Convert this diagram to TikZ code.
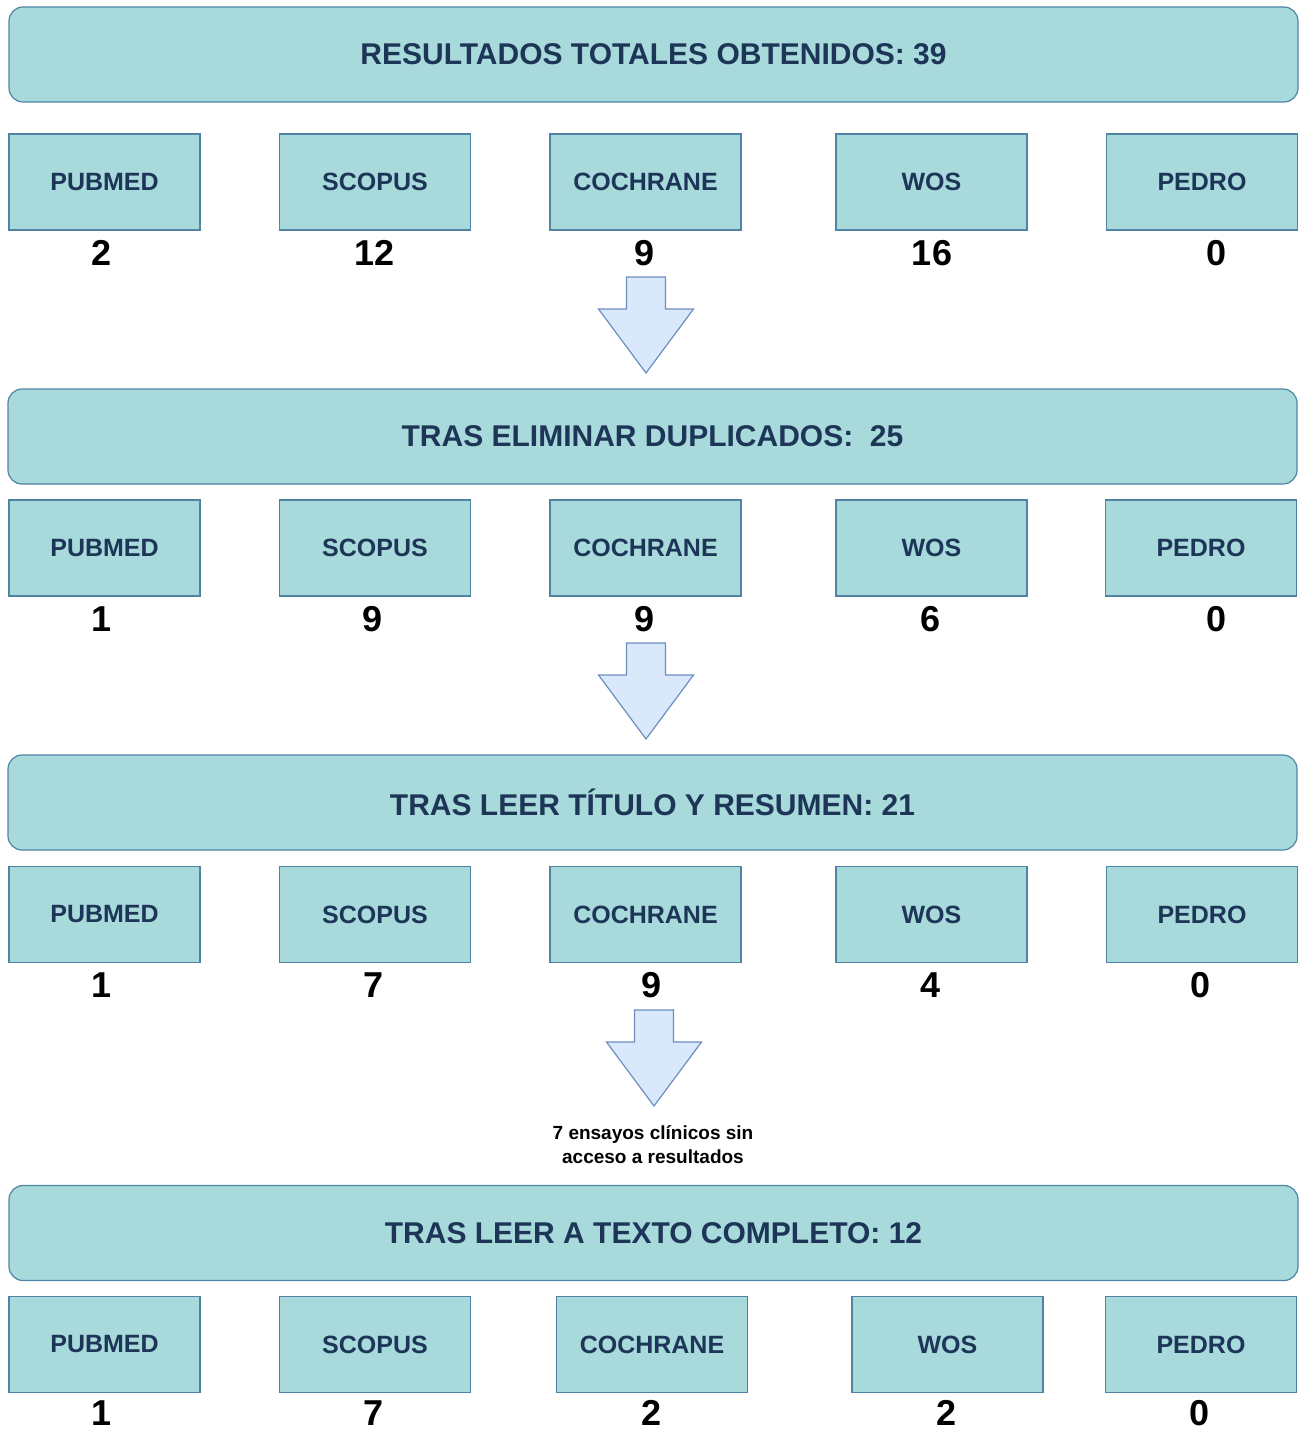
\documentclass[tikz,border=0pt]{standalone}
\usepackage{fontspec}
\setmainfont{Liberation Sans}
\usepackage{xcolor}
\usepackage{tikz}
\usetikzlibrary{positioning}

\definecolor{relleno}{HTML}{A8DADC}
\definecolor{borde}{HTML}{4F84A6}
\definecolor{letra}{HTML}{1D3557}
\definecolor{rellenoflecha}{HTML}{DAE8FC}
\definecolor{bordeflecha}{HTML}{6C8EBF}

% flecha de bloque hacia abajo, con la punta en #1
\newcommand{\flecha}[1]{%
  \draw[flecha] (#1) -- ++(47.5,-64) -- ++(-28,0) -- ++(0,-32) -- ++(-39,0)
    -- ++(0,32) -- ++(-28,0) -- cycle;}

\begin{document}
\begin{tikzpicture}[
    x=0.5pt, y=-0.5pt,
    cabecera/.style={draw=borde, fill=relleno, line width=0.6pt, rounded corners=7pt,
      minimum width=644.5pt, minimum height=47.5pt, inner sep=0pt,
      text=letra, font=\fontsize{15}{18}\selectfont\bfseries},
    base/.style={draw=borde, fill=relleno, line width=0.6pt,
      minimum width=95.5pt, minimum height=48pt, inner sep=0pt,
      text=letra, font=\fontsize{12.5}{15}\selectfont\bfseries},
    cifra/.style={inner sep=0pt, text=black, font=\fontsize{18}{21}\selectfont\bfseries},
    nota/.style={inner sep=0pt, align=center, text=black,
      font=\fontsize{9.5}{12}\selectfont\bfseries},
    flecha/.style={draw=bordeflecha, fill=rellenoflecha, line width=0.6pt, line join=miter}]
  \useasboundingbox (0,0) rectangle (1304,1432);

  % resultados totales
  \node[cabecera] (h1) at (653.5,54.5) {RESULTADOS TOTALES OBTENIDOS: 39};
  \node[base] (pub1) at (104.5,182) {PUBMED};
  \node[base] (sco1) at (375,182) {SCOPUS};
  \node[base] (coc1) at (645.5,182) {COCHRANE};
  \node[base] (wos1) at (931.5,182) {WOS};
  \node[base] (ped1) at (1202,182) {PEDRO};
  \node[cifra] (npub1) at (102,253) {2};
  \node[cifra] (nsco1) at (375,253) {12};
  \node[cifra] (ncoc1) at (645,253) {9};
  \node[cifra] (nwos1) at (932,253) {16};
  \node[cifra] (nped1) at (1217,253) {0};
  \coordinate (fl1) at (646,373);
  \flecha{fl1}

  % duplicados
  \node[cabecera] (h2) at (652.5,436.5) {TRAS ELIMINAR DUPLICADOS:\ \ 25};
  \node[base] (pub2) at (104.5,548) {PUBMED};
  \node[base] (sco2) at (375,548) {SCOPUS};
  \node[base] (coc2) at (645.5,548) {COCHRANE};
  \node[base] (wos2) at (931.5,548) {WOS};
  \node[base] (ped2) at (1201,548) {PEDRO};
  \node[cifra] (npub2) at (102,619) {1};
  \node[cifra] (nsco2) at (373,619) {9};
  \node[cifra] (ncoc2) at (645,619) {9};
  \node[cifra] (nwos2) at (931,619) {6};
  \node[cifra] (nped2) at (1217,619) {0};
  \coordinate (fl2) at (646,739);
  \flecha{fl2}

  % titulo y resumen
  \node[cabecera] (h3) at (652.5,802.5) {TRAS LEER TÍTULO Y RESUMEN: 21};
  \node[base] (pub3) at (104.5,914.5) {PUBMED};
  \node[base] (sco3) at (375,914.5) {SCOPUS};
  \node[base] (coc3) at (645.5,914.5) {COCHRANE};
  \node[base] (wos3) at (931.5,914.5) {WOS};
  \node[base] (ped3) at (1202,914.5) {PEDRO};
  \node[cifra] (npub3) at (102,985) {1};
  \node[cifra] (nsco3) at (374,985) {7};
  \node[cifra] (ncoc3) at (652,985) {9};
  \node[cifra] (nwos3) at (931,985) {4};
  \node[cifra] (nped3) at (1201,985) {0};
  \coordinate (fl3) at (654,1106);
  \flecha{fl3}
  \node[nota] (nota) at (653,1145) {7 ensayos clínicos sin\\acceso a resultados};

  % texto completo
  \node[cabecera] (h4) at (653.5,1233) {TRAS LEER A TEXTO COMPLETO: 12};
  \node[base] (pub4) at (104.5,1344.5) {PUBMED};
  \node[base] (sco4) at (375,1344.5) {SCOPUS};
  \node[base] (coc4) at (652,1344.5) {COCHRANE};
  \node[base] (wos4) at (947.5,1344.5) {WOS};
  \node[base] (ped4) at (1201,1344.5) {PEDRO};
  \node[cifra] (npub4) at (102,1413) {1};
  \node[cifra] (nsco4) at (374,1413) {7};
  \node[cifra] (ncoc4) at (652,1413) {2};
  \node[cifra] (nwos4) at (947,1413) {2};
  \node[cifra] (nped4) at (1200,1413) {0};
\end{tikzpicture}
\end{document}
